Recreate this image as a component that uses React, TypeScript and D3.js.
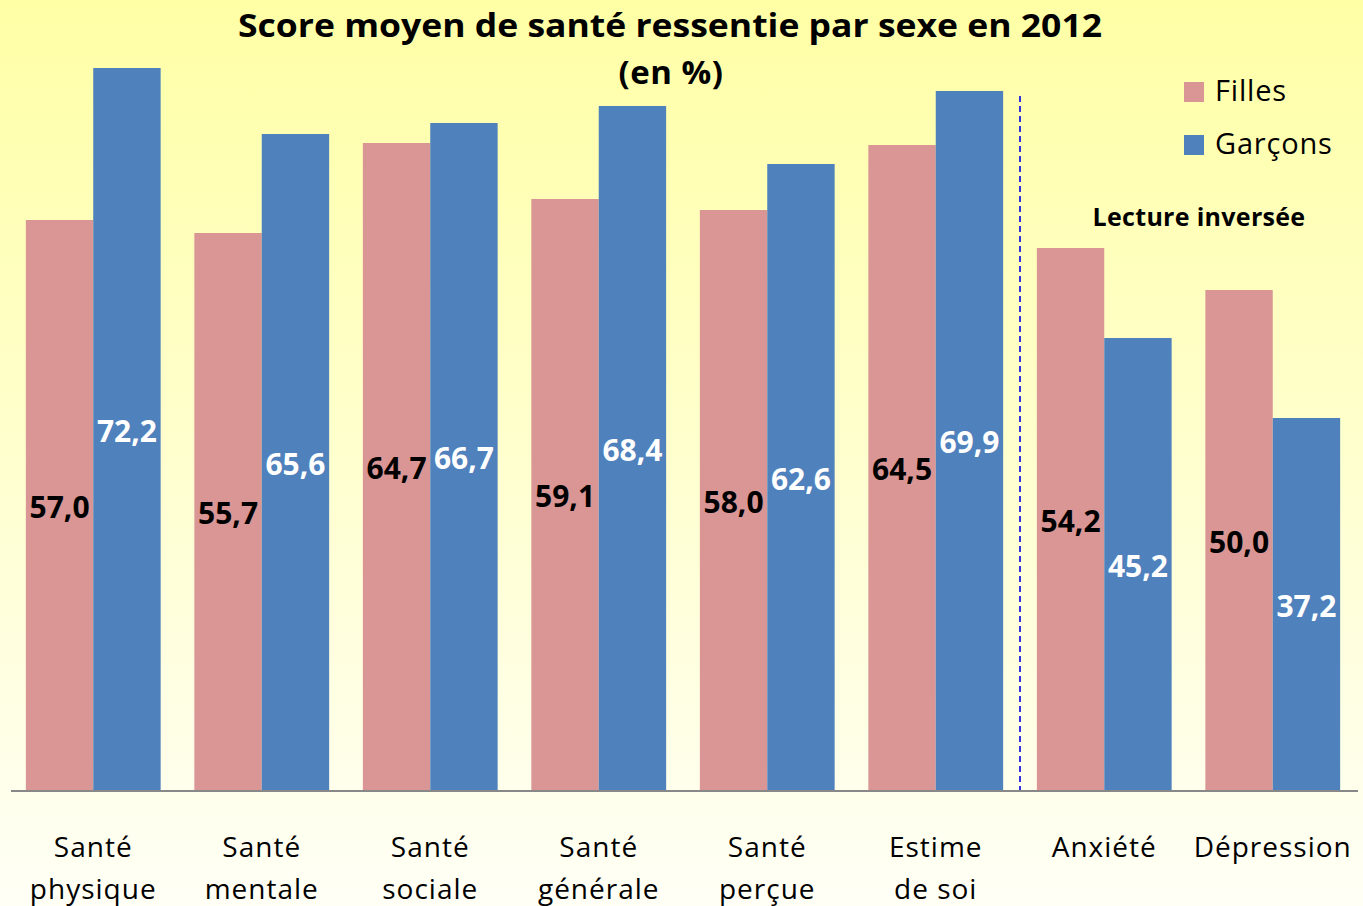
import React from "react";
import * as d3 from "d3";

const categories = [
  ["Santé", "physique"],
  ["Santé", "mentale"],
  ["Santé", "sociale"],
  ["Santé", "générale"],
  ["Santé", "perçue"],
  ["Estime", "de soi"],
  ["Anxiété"],
  ["Dépression"],
];
const filles = [57.0, 55.7, 64.7, 59.1, 58.0, 64.5, 54.2, 50.0];
const garcons = [72.2, 65.6, 66.7, 68.4, 62.6, 69.9, 45.2, 37.2];
const seriesNames = ["Filles", "Garçons"];
const colors = ["#D99694", "#4F81BD"];

const W = 1363;
const H = 906;
const FONT = "'Open Sans', 'Liberation Sans', sans-serif";

export default function App() {
  const keys = categories.map((c) => c.join(" "));
  const x = d3.scaleBand<string>().domain(keys).range([9, 1357]).paddingInner(0.2).paddingOuter(0.1);
  const sub = d3.scaleBand<string>().domain(seriesNames).range([0, x.bandwidth()]);
  const y = d3.scaleLinear().domain([0, 79]).range([790, 0]);
  const fmt = (v: number) => v.toFixed(1).replace(".", ",");
  const sepX = ((x(keys[5])! + x.bandwidth()) + x(keys[6])!) / 2;
  const series = [filles, garcons];

  return (
    <svg width={W} height={H} style={{ position: "absolute", left: 0, top: 0 }} fontFamily={FONT}>
      <defs>
        <linearGradient id="bg" x1="0" y1="0" x2="0" y2="1">
          <stop offset="0" stopColor="#FFFFA6" />
          <stop offset="1" stopColor="#FFFFF6" />
        </linearGradient>
      </defs>
      <rect x={0} y={0} width={W} height={H} fill="url(#bg)" />
      {series.map((vals, si) =>
        vals.map((v, i) => {
          const bx = x(keys[i])! + sub(seriesNames[si])!;
          const by = y(v);
          const bh = y(0) - y(v);
          return (
            <g key={`${si}-${i}`}>
              <rect x={bx} y={by} width={sub.bandwidth()} height={bh} fill={colors[si]} />
              <text
                x={bx + sub.bandwidth() / 2}
                y={by + bh / 2}
                dy="0.42em"
                textAnchor="middle"
                fontWeight="bold"
                fontSize={30}
                fill={si === 0 ? "#000" : "#fff"}
              >
                {fmt(v)}
              </text>
            </g>
          );
        })
      )}
      <line x1={11} x2={1358} y1={y(0) + 1} y2={y(0) + 1} stroke="#888" strokeWidth={2} />
      <line x1={sepX} x2={sepX} y1={96} y2={y(0)} stroke="#3333DD" strokeWidth={2} strokeDasharray="6,4" />
      {categories.map((lines, i) =>
        lines.map((t, li) => (
          <text
            key={`c${i}-${li}`}
            x={x(keys[i])! + x.bandwidth() / 2}
            y={857 + li * 42}
            textAnchor="middle"
            fontSize={28}
            letterSpacing={1}
            fill="#000"
          >
            {t}
          </text>
        ))
      )}
      <text x={670} y={37} textAnchor="middle" fontWeight="bold" fontSize={32} fill="#000" textLength={864} lengthAdjust="spacingAndGlyphs">
        Score moyen de santé ressentie par sexe en 2012
      </text>
      <text x={671} y={84} textAnchor="middle" fontWeight="bold" fontSize={33} fill="#000" letterSpacing={0.5}>
        (en %)
      </text>
      {seriesNames.map((n, i) => (
        <g key={n}>
          <rect x={1184} y={82 + i * 53} width={20} height={20} fill={colors[i]} />
          <text x={1215} y={101 + i * 53} fontSize={29} letterSpacing={0.8} fill="#000">
            {n}
          </text>
        </g>
      ))}
      <text x={1199} y={226} textAnchor="middle" fontWeight="bold" fontSize={25} letterSpacing={0.3} fill="#000">
        Lecture inversée
      </text>
    </svg>
  );
}
